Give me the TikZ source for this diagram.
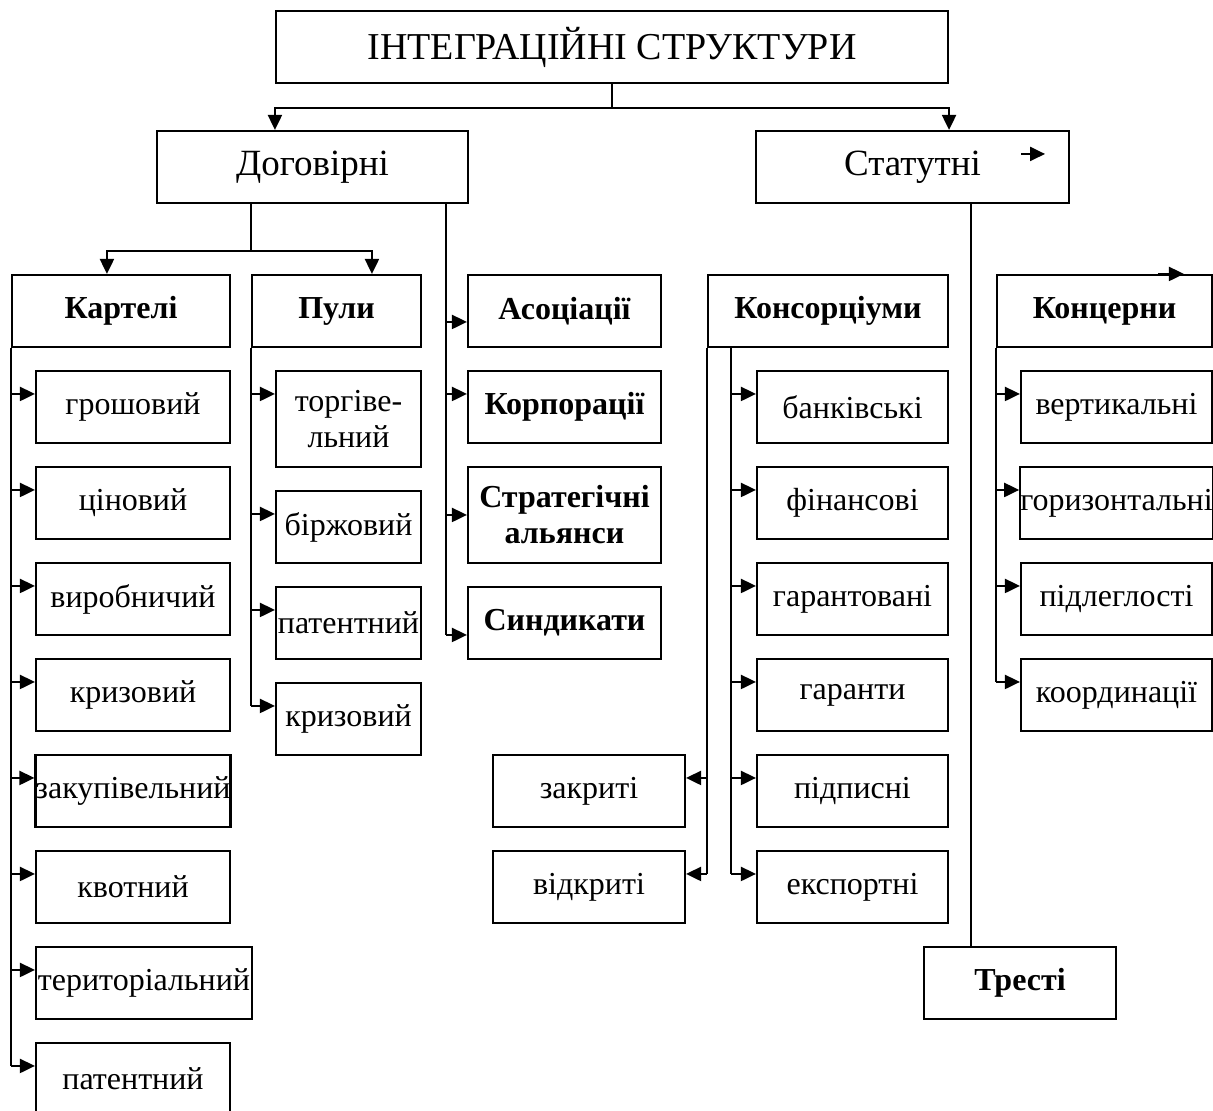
\documentclass[tikz,border=0pt]{standalone}
\usepackage{fontspec}
\setmainfont{Liberation Serif}
\usetikzlibrary{arrows.meta,calc}

\tikzset{
  box/.style={draw, rectangle, line width=2.1pt, inner sep=0pt, align=center,
              font=\fontsize{32}{36}\selectfont},
  head/.style={box, font=\fontsize{32}{36}\selectfont\bfseries},
  big/.style={box, font=\fontsize{37}{42}\selectfont},
  title/.style={box, font=\fontsize{38}{44}\selectfont},
  wire/.style={line width=2.1pt},
  arr/.style={wire, -{Triangle[length=15pt,width=14pt]}},
}

% box by its corners: style, name, x1, y1, x2, y2; text follows
\newcommand\place[6]{%
  \node[#1, minimum width={(#5)-(#3)}, minimum height={(#6)-(#4)}] (#2)
    at ({((#3)+(#5))/2},{((#4)+(#6))/2})}

% arrow from a vertical bus into the left side of a node, #2 below its top
\newcommand\feedin[3]{%
  \coordinate (#1-in) at ($(#1.north west)+(0,#2)$);
  \draw[arr] (#3 |- #1-in) -- (#1-in);}

% arrow from a vertical bus into the right side of a node
\newcommand\feedleft[3]{%
  \coordinate (#1-in) at ($(#1.north east)+(0,#2)$);
  \draw[arr] (#3 |- #1-in) -- (#1-in);}

\begin{document}
\begin{tikzpicture}[x=1pt, y=-1pt]
\useasboundingbox (0,0) rectangle (1213,1111);

% ---------- top levels ----------
\place{title}{top}{276}{11}{948}{83} {ІНТЕГРАЦІЙНІ СТРУКТУРИ};
\place{big}{dog}{157}{131}{468}{203} {Договірні};
\place{big}{stat}{756}{131}{1069}{203} {Статутні};

% ---------- second level ----------
\place{head}{kart}{12}{275}{230}{347} {Картелі};
\place{head}{puly}{252}{275}{421}{347} {Пули};
\place{head}{asoc}{468}{275}{661}{347} {Асоціації};
\place{head}{kons}{708}{275}{948}{347} {Консорціуми};
\place{head}{konc}{997}{275}{1212}{347} {Концерни};

% cartels
\place{box}{k1}{36}{371}{230}{443} {грошовий};
\place{box}{k2}{36}{467}{230}{539} {ціновий};
\place{box}{k3}{36}{563}{230}{635} {виробничий};
\place{box}{k4}{36}{659}{230}{731} {кризовий};
\place{box}{k5}{36}{755}{230}{827} {закупівельний};
\place{box}{k6}{36}{851}{230}{923} {квотний};
\place{box}{k7}{36}{947}{252}{1019} {територіальний};
\place{box}{k8}{36}{1043}{230}{1115} {патентний};

% pools
\place{box}{p1}{276}{371}{421}{467} {торгіве-\\льний};
\place{box}{p2}{276}{491}{421}{563} {біржовий};
\place{box}{p3}{276}{587}{421}{659} {патентний};
\place{box}{p4}{276}{683}{421}{755} {кризовий};

% middle column
\place{head}{korp}{468}{371}{661}{443} {Корпорації};
\place{head}{strat}{468}{467}{661}{563} {Стратегічні\\альянси};
\place{head}{synd}{468}{587}{661}{659} {Синдикати};

% consortia
\place{box}{c1}{757}{371}{948}{443} {банківські};
\place{box}{c2}{757}{467}{948}{539} {фінансові};
\place{box}{c3}{757}{563}{948}{635} {гарантовані};
\place{box}{c4}{757}{659}{948}{731} {гаранти};
\place{box}{c5}{757}{755}{948}{827} {підписні};
\place{box}{c6}{757}{851}{948}{923} {експортні};
\place{box}{zakr}{493}{755}{685}{827} {закриті};
\place{box}{vidk}{493}{851}{685}{923} {відкриті};

% concerns
\place{box}{n1}{1021}{371}{1212}{443} {вертикальні};
\place{box}{n2}{1021}{467}{1212}{539} {горизонтальні};
\place{box}{n3}{1021}{563}{1212}{635} {підлеглості};
\place{box}{n4}{1021}{659}{1212}{731} {координації};

% trusts
\place{head}{trest}{924}{947}{1116}{1019} {Тресті};

% ---------- connectors ----------
\draw[wire] (top.south) -- ++(0,24) coordinate (rootbus);
\draw[arr] (rootbus) -| (top.south west |- dog.north);
\draw[arr] (rootbus) -| (top.south east |- stat.north);

\draw[wire] (dog.south -| puly.west) -- ++(0,47) coordinate (dogbus);
\draw[arr] (dogbus) -| ([xshift=96pt]kart.north west);
\draw[arr] (dogbus) -| ([xshift=121pt]puly.north west);

% contract side column
\coordinate (dogside) at ([xshift=-23pt]dog.south east);
\feedin{asoc}{48}{dogside}
\feedin{korp}{24}{dogside}
\feedin{strat}{49}{dogside}
\feedin{synd}{49}{dogside}
\draw[wire] (dogside) -- (dogside |- synd-in);

% cartels bus
\foreach \n in {k1,k2,k3,k4,k5,k6,k7,k8}
  {\feedin{\n}{24}{kart.south west}}
\draw[wire] (kart.south west) -- (kart.south west |- k8-in);

% pools bus
\foreach \n in {p1,p2,p3,p4}
  {\feedin{\n}{24}{puly.south west}}
\draw[wire] (puly.south west) -- (puly.south west |- p4-in);

% consortia buses
\coordinate (konsbus) at ([xshift=24pt]kons.south west);
\foreach \n in {c1,c2,c3,c4,c5,c6}
  {\feedin{\n}{24}{konsbus}}
\draw[wire] (konsbus) -- (konsbus |- c6-in);
\feedleft{zakr}{24}{kons.south west}
\feedleft{vidk}{24}{kons.south west}
\draw[wire] (kons.south west) -- (kons.south west |- vidk-in);

% concerns bus
\foreach \n in {n1,n2,n3,n4}
  {\feedin{\n}{24}{konc.south west}}
\draw[wire] (konc.south west) -- (konc.south west |- n4-in);

% statutory -> trusts
\draw[wire] ([xshift=216pt]stat.south west) -- ([xshift=48pt]trest.north west);

% loose arrows
\draw[arr] ($(stat.north east)+(-49,24)$) -- ++(24,0);
\draw[arr] ($(konc.north west)+(162,0)$) -- ++(26,0);
\end{tikzpicture}
\end{document}
